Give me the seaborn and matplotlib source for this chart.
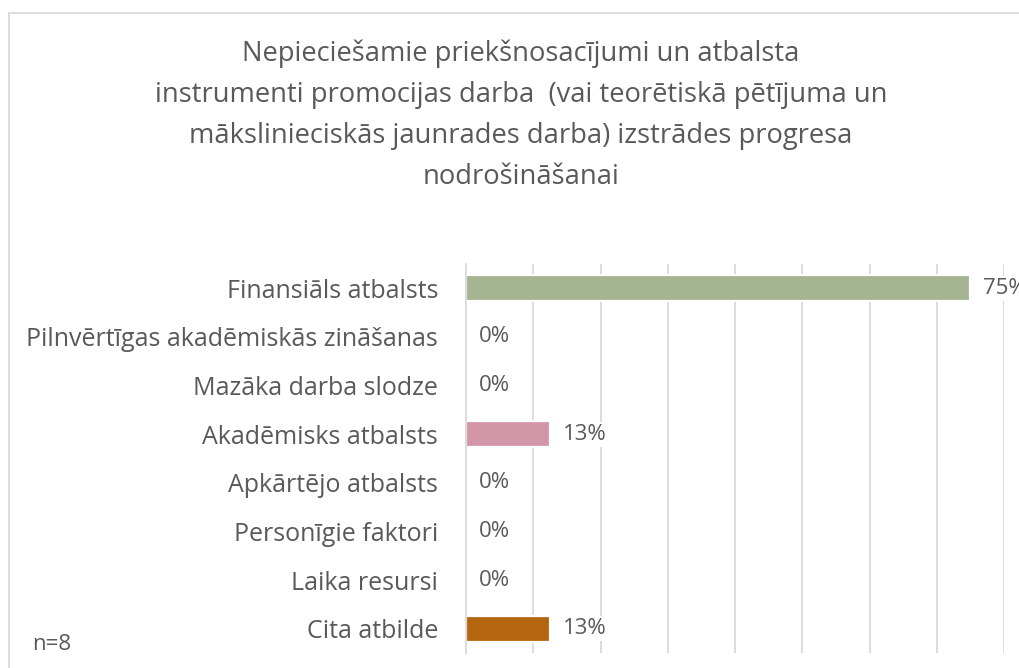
import math
import numpy as np
import pandas as pd
import matplotlib
matplotlib.use("Agg")
import matplotlib.pyplot as plt
import seaborn as sns

categories = [
    "Finansiāls atbalsts",
    "Pilnvērtīgas akadēmiskās zināšanas",
    "Mazāka darba slodze",
    "Akadēmisks atbalsts",
    "Apkārtējo atbalsts",
    "Personīgie faktori",
    "Laika resursi",
    "Cita atbilde",
]
values = [0.75, 0.0, 0.0, 0.125, 0.0, 0.0, 0.0, 0.125]
bar_colors = ["#A5B592", "#A5B592", "#A5B592", "#D396A8", "#A5B592", "#A5B592", "#A5B592", "#B3660E"]
title = ("Nepieciešamie priekšnosacījumi un atbalsta\n"
         "instrumenti promocijas darba  (vai teorētiskā pētījuma un\n"
         "mākslinieciskās jaunrades darba) izstrādes progresa\n"
         "nodrošināšanai")
note = "n=8"

sns.set_theme(style="white")
plt.rcParams["font.family"] = ["Open Sans", "DejaVu Sans"]
TXT = "#595959"
GRID = "#D9D9D9"

df = pd.DataFrame({"cat": categories, "val": values})

fig = plt.figure(figsize=(10.19, 6.68), dpi=100)
fig.patch.set_facecolor("white")
ax = fig.add_axes([466 / 1019, 1 - 653 / 668, 538 / 1019, (653 - 264) / 668])

sns.barplot(data=df, x="val", y="cat", hue="cat", palette=bar_colors, legend=False,
            saturation=1, orient="h", width=0.53, ax=ax, edgecolor="white",
            linewidth=1.6, zorder=3)

ax.set_xlim(0, 0.8)
ax.set_ylim(len(categories) - 0.5, -0.5)
ax.set_xlabel("")
ax.set_ylabel("")
ax.set_xticks(np.arange(0.1, 0.81, 0.1))
ax.set_xticklabels([])
ax.tick_params(axis="x", length=0)
ax.grid(axis="x", color=GRID, linewidth=1.3, zorder=0)
ax.set_axisbelow(True)
for s in ["top", "right", "bottom"]:
    ax.spines[s].set_visible(False)
ax.spines["left"].set_color(GRID)
ax.spines["left"].set_linewidth(1.3)
ax.spines["left"].set_zorder(6)

ax.set_yticks(range(len(categories)))
ax.set_yticklabels(categories, fontsize=18, color=TXT)
ax.set_yticks(np.arange(-0.5, len(categories), 1.0), minor=True)
ax.tick_params(axis="y", which="major", length=0, pad=20)
ax.tick_params(axis="y", which="minor", length=6, color=GRID, width=1.3)

for cont in ax.containers:
    labels = [f"{math.floor(b.get_width() * 100 + 0.5)}%" for b in cont]
    ax.bar_label(cont, labels=labels, padding=9, fontsize=16, color=TXT,
                 bbox=dict(facecolor="white", edgecolor="none", pad=1.5), clip_on=False)

fig.text(521 / 1019, 1 - 39 / 668, title, ha="center", va="top", fontsize=19.7,
         color=TXT, linespacing=1.62)
fig.text(32 / 1019, 1 - 645 / 668, note, ha="left", va="center", fontsize=16, color=TXT)

border = plt.Rectangle((9 / 1019, -0.05), 1.2, 1 - 13 / 668 + 0.05, transform=fig.transFigure,
                       fill=False, edgecolor=GRID, linewidth=1.3)
fig.add_artist(border)

fig.savefig("out.png", dpi=100)
